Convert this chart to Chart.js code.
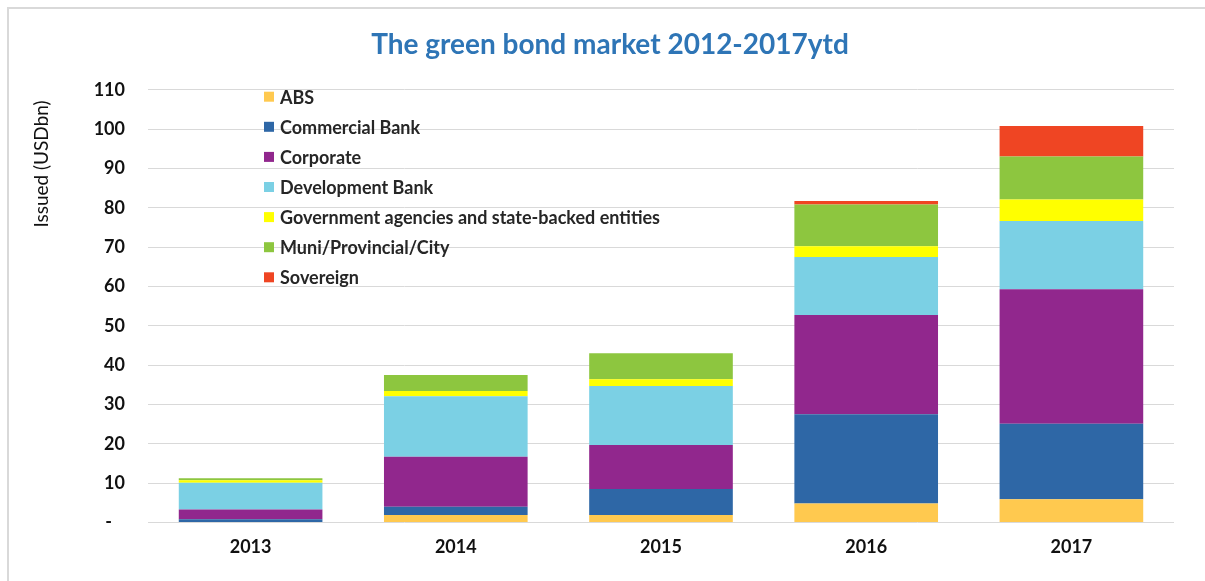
<!DOCTYPE html>
<html>
<head>
<meta charset="utf-8">
<title>The green bond market 2012-2017ytd</title>
<script src="https://cdn.jsdelivr.net/npm/chart.js@4/dist/chart.umd.min.js"></script>
<style>
  html, body { margin: 0; padding: 0; background: #fff; overflow: hidden; }
  canvas { display: block; }
</style>
</head>
<body>
<canvas id="bondChart" width="1205" height="581"></canvas>
<script>
const years = ['2013', '2014', '2015', '2016', '2017'];

// issuance per issuer type, USD bn
const abs         = [0.0, 1.9, 1.9, 4.8, 5.9];
const commercial  = [0.8, 2.1, 6.6, 22.7, 19.2];
const corporate   = [2.5, 12.7, 11.2, 25.2, 34.2];
const development = [6.8, 15.4, 15.0, 14.8, 17.3];
const government  = [0.6, 1.3, 1.7, 2.7, 5.5];
const municipal   = [0.5, 4.1, 6.6, 10.6, 10.9];
const sovereign   = [0.0, 0.0, 0.0, 0.9, 7.8];

const seriesNames = [
    'ABS',
    'Commercial Bank',
    'Corporate',
    'Development Bank',
    'Government agencies and state-backed entities',
    'Muni/Provincial/City',
    'Sovereign'
];
const seriesData = [abs, commercial, corporate, development, government, municipal, sovereign];
const seriesColors = ['#ffc94f', '#2e67a6', '#91278d', '#7bd0e4', '#ffff00', '#8dc63f', '#ef4523'];

const chartTitle = 'The green bond market 2012-2017ytd';
const yTitle = 'Issued (USDbn)';

const FONT = 'Lato, "Open Sans", sans-serif';

// light frame along the top and left edge
const frame = {
    id: 'frame',
    beforeDraw(chart) {
        const ctx = chart.ctx;
        ctx.save();
        ctx.strokeStyle = '#d9d9d9';
        ctx.lineWidth = 2;
        ctx.beginPath();
        ctx.moveTo(8, chart.height);
        ctx.lineTo(8, 8);
        ctx.lineTo(chart.width, 8);
        ctx.stroke();
        ctx.restore();
    }
};

// title, y-axis caption and a one-column legend inside the plot
const decorations = {
    id: 'decorations',
    afterDraw(chart) {
        const ctx = chart.ctx;
        ctx.save();

        ctx.fillStyle = '#2e75b6';
        ctx.font = `bold 28px ${FONT}`;
        ctx.textAlign = 'center';
        ctx.textBaseline = 'middle';
        ctx.fillText(chartTitle, 610, 45);

        ctx.save();
        ctx.translate(42, 164);
        ctx.rotate(-Math.PI / 2);
        ctx.fillStyle = '#111';
        ctx.font = `19px ${FONT}`;
        ctx.fillText(yTitle, 0, 0);
        ctx.restore();

        ctx.font = `bold 18px ${FONT}`;
        ctx.textAlign = 'left';
        chart.data.datasets.forEach((ds, i) => {
            const y = 96.7 + i * 30.1;
            ctx.fillStyle = ds.backgroundColor;
            ctx.fillRect(264, y - 5, 10, 10);
            ctx.fillStyle = '#262626';
            ctx.fillText(ds.label, 280, y + 1);
        });
        ctx.restore();
    }
};

window.onload = () => {
    const ctx = document.getElementById('bondChart').getContext('2d');

    new Chart(ctx, {
        type: 'bar',
        data: {
            labels: years,
            datasets: seriesNames.map((name, i) => ({
                label: name,
                data: seriesData[i],
                backgroundColor: seriesColors[i],
                borderWidth: 0,
                categoryPercentage: 0.7,
                barPercentage: 1
            }))
        },
        options: {
            responsive: false,
            animation: false,
            events: [],
            layout: { padding: { left: 0, right: 31, top: 89.7, bottom: 9 } },
            plugins: {
                legend: { display: false },
                tooltip: { enabled: false },
                title: { display: false }
            },
            scales: {
                x: {
                    stacked: true,
                    grid: { display: false, drawTicks: false },
                    border: { display: false },
                    ticks: {
                        color: '#111',
                        padding: 14,
                        font: { family: FONT, size: 18, weight: 'bold' }
                    }
                },
                y: {
                    stacked: true,
                    min: 0,
                    max: 110,
                    afterFit(scale) { scale.width = 148; },
                    grid: { color: '#d9d9d9', lineWidth: 1, drawTicks: false },
                    border: { display: false },
                    ticks: {
                        stepSize: 10,
                        color: '#111',
                        padding: 23,
                        font: { family: FONT, size: 18, weight: 'bold' },
                        callback: v => (v === 0 ? '-   ' : v)
                    }
                }
            }
        },
        plugins: [frame, decorations]
    });
};
</script>
</body>
</html>
